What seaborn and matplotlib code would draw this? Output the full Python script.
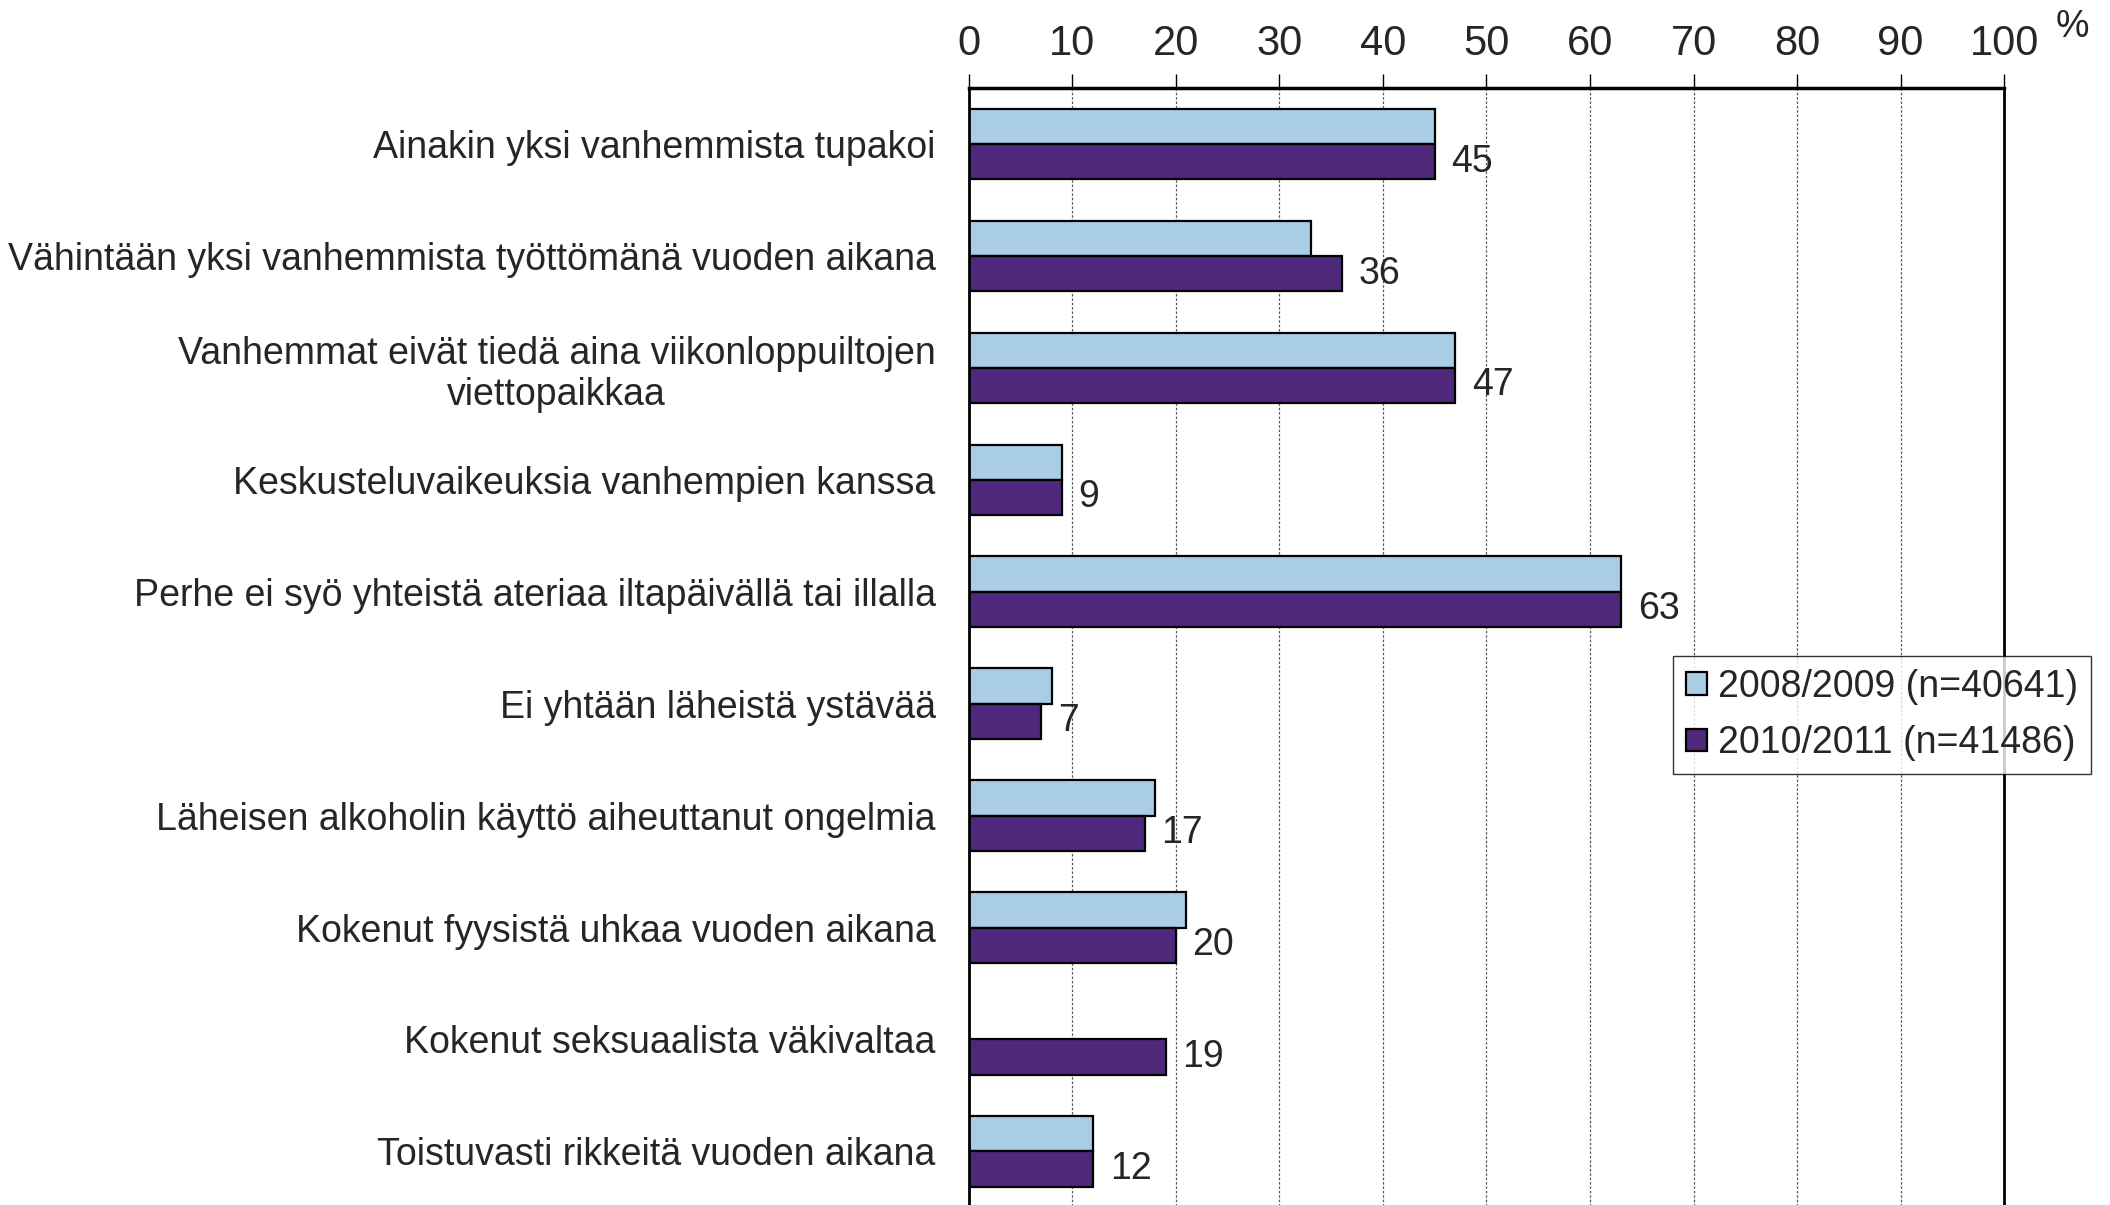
import numpy as np
import pandas as pd
import seaborn as sns
import matplotlib.pyplot as plt
from matplotlib.patches import Patch

categories = [
    'Ainakin yksi vanhemmista tupakoi',
    'Vähintään yksi vanhemmista työttömänä vuoden aikana',
    'Vanhemmat eivät tiedä aina viikonloppuiltojen\nviettopaikkaa',
    'Keskusteluvaikeuksia vanhempien kanssa',
    'Perhe ei syö yhteistä ateriaa iltapäivällä tai illalla',
    'Ei yhtään läheistä ystävää',
    'Läheisen alkoholin käyttö aiheuttanut ongelmia',
    'Kokenut fyysistä uhkaa vuoden aikana',
    'Kokenut seksuaalista väkivaltaa',
    'Toistuvasti rikkeitä vuoden aikana',
]
series_names = ['2008/2009 (n=40641)', '2010/2011 (n=41486)']
values_2008 = [45, 33, 47, 9, 63, 8, 18, 21, np.nan, 12]
values_2010 = [45, 36, 47, 9, 63, 7, 17, 20, 19, 12]
x_ticks = list(range(0, 101, 10))

colors = ['#A9CDE4', '#4E287A']

df = pd.DataFrame({
    'kategoria': categories * 2,
    'vuosi': [series_names[0]] * len(categories) + [series_names[1]] * len(categories),
    'osuus': values_2008 + values_2010,
})

sns.set_style('white')
plt.rcParams['font.family'] = ['Liberation Sans', 'DejaVu Sans']

fig = plt.figure(figsize=(21.1, 12.05), dpi=100)
ax = fig.add_axes([0.4592, -0.002, 0.4906, 0.929])

sns.barplot(data=df, y='kategoria', x='osuus', hue='vuosi', order=categories,
            hue_order=series_names, palette=colors, saturation=1, width=0.63,
            edgecolor='black', linewidth=1.6, orient='h', legend=False, ax=ax)

ax.set_xlim(0, 100)
ax.set_ylim(len(categories) - 0.5, -0.5)
ax.set_xlabel('')
ax.set_ylabel('')

# top axis with narrow font
ax.xaxis.tick_top()
ax.set_xticks(x_ticks)
ax.set_xticklabels([str(t) for t in x_ticks], family=['Liberation Sans Narrow', 'Liberation Sans'],
                   fontsize=30)
ax.tick_params(axis='x', direction='out', length=10, width=1, color='black', pad=7, top=True, bottom=False)
ax.tick_params(axis='y', length=0, pad=24, labelsize=27)
for lbl in ax.get_yticklabels():
    lbl.set_multialignment('center')

ax.xaxis.grid(True, linestyle=(0, (2, 1.5)), color='0.35', linewidth=0.9)
ax.set_axisbelow(True)

for side in ['top', 'left', 'right']:
    ax.spines[side].set_visible(True)
    ax.spines[side].set_color('black')
ax.spines['top'].set_linewidth(2.5)
ax.spines['left'].set_linewidth(2)
ax.spines['right'].set_linewidth(2)
ax.spines['bottom'].set_visible(False)

# value labels for the latest survey
ax.bar_label(ax.containers[1], fmt='%.0f', padding=12, fontsize=27)

fig.text(0.982, 0.978, '%', ha='center', va='center',
         family=['Liberation Sans Narrow', 'Liberation Sans'], fontsize=27)

handles = [Patch(facecolor=c, edgecolor='black', linewidth=1.6) for c in colors]
leg = ax.legend(handles, series_names, loc='upper left', bbox_to_anchor=(0.793, 0.456),
                bbox_transform=fig.transFigure, fontsize=27, frameon=True, fancybox=False,
                handlelength=0.55, handleheight=0.55, handletextpad=0.3,
                borderpad=0.35, labelspacing=0.55, borderaxespad=0)
leg.get_frame().set_edgecolor('black')
leg.get_frame().set_linewidth(1)

fig.savefig('out.png', dpi=100)
